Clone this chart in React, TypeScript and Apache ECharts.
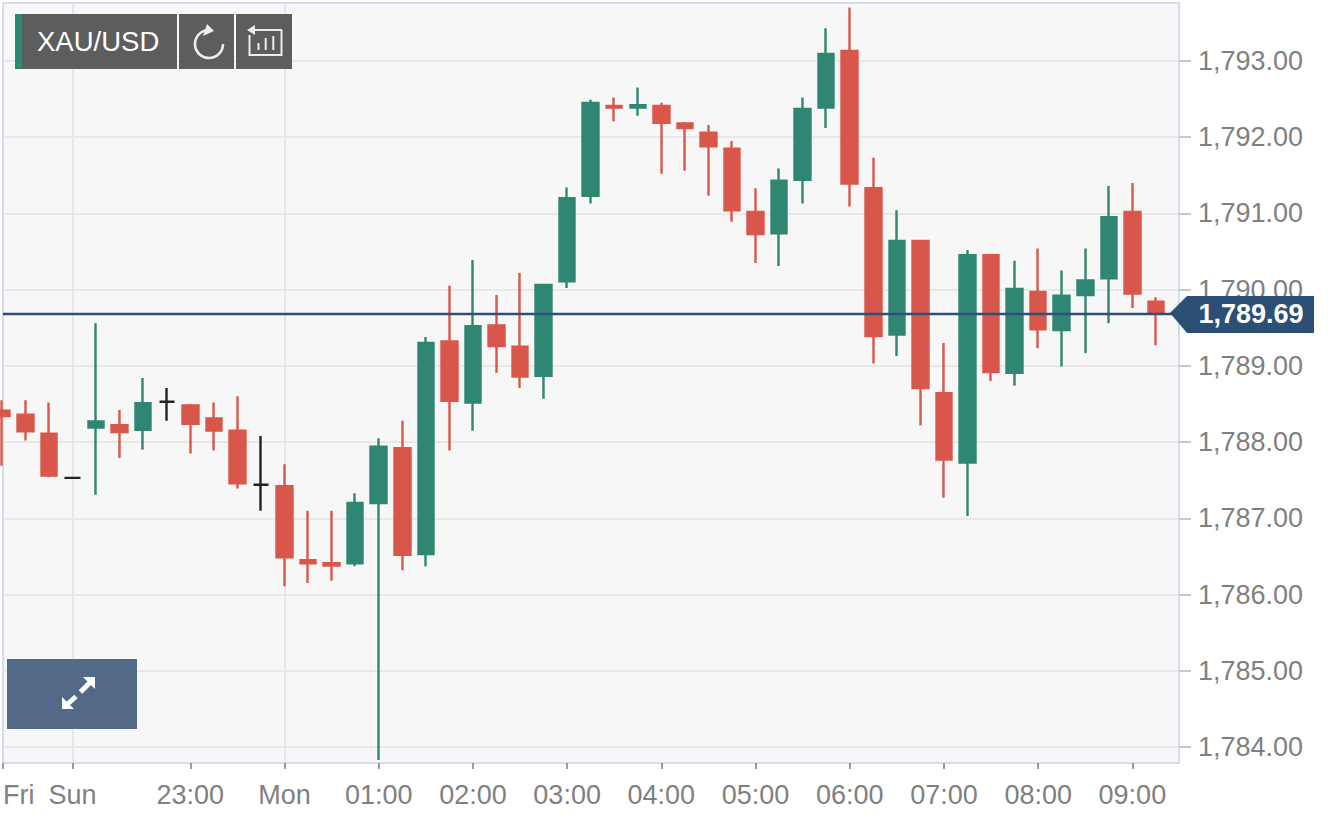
import React, { useEffect, useRef } from "react";
import * as echarts from "echarts";

const opens = [1788.41,1788.36,1788.11,1787.53,1788.19,1788.22,1788.16,1788.53,1788.48,1788.31,1788.15,1787.44,1787.42,1786.45,1786.41,1786.41,1787.20,1787.92,1786.53,1789.32,1788.52,1789.53,1789.25,1788.87,1790.11,1791.23,1792.41,1792.39,1792.41,1792.18,1792.06,1791.85,1791.02,1790.74,1791.44,1792.39,1793.13,1791.33,1789.41,1790.64,1788.64,1787.73,1790.45,1788.91,1789.97,1789.47,1789.93,1790.15,1791.02,1789.84];
const closes = [1788.34,1788.14,1787.56,1787.53,1788.27,1788.13,1788.51,1788.53,1788.24,1788.15,1787.46,1787.44,1786.49,1786.41,1786.38,1787.20,1787.94,1786.52,1789.30,1788.54,1789.52,1789.26,1788.86,1790.06,1791.20,1792.45,1792.39,1792.42,1792.19,1792.12,1791.88,1791.04,1790.73,1791.43,1792.37,1793.09,1791.39,1789.39,1790.64,1788.71,1787.77,1790.45,1788.92,1790.01,1789.48,1789.92,1790.12,1790.95,1789.95,1789.70];
const lows = [1787.69,1788.02,1787.54,1787.52,1787.31,1787.79,1787.90,1788.28,1787.85,1787.89,1787.39,1787.10,1786.11,1786.15,1786.18,1786.37,1783.83,1786.32,1786.37,1787.89,1788.15,1788.91,1788.71,1788.57,1790.02,1791.13,1792.21,1792.28,1791.52,1791.56,1791.23,1790.89,1790.35,1790.31,1791.13,1792.12,1791.09,1789.03,1789.13,1788.22,1787.27,1787.03,1788.80,1788.74,1789.23,1788.99,1789.17,1789.56,1789.76,1789.27];
const highs = [1788.55,1788.55,1788.52,1787.54,1789.56,1788.42,1788.84,1788.71,1788.50,1788.52,1788.60,1788.08,1787.71,1787.10,1787.10,1787.33,1788.05,1788.28,1789.38,1790.05,1790.39,1789.93,1790.22,1790.07,1791.34,1792.49,1792.52,1792.65,1792.45,1792.20,1792.16,1791.95,1791.33,1791.59,1792.52,1793.43,1793.70,1791.73,1791.04,1790.65,1789.30,1790.52,1790.46,1790.38,1790.54,1790.25,1790.54,1791.36,1791.40,1789.90];

const xTickPositions = [0.047, 3, 8, 12, 16, 20, 24, 28, 32, 36, 40, 44, 48];
const xTickLabels = ["Fri", "Sun", "23:00", "Mon", "01:00", "02:00", "03:00", "04:00", "05:00", "06:00", "07:00", "08:00", "09:00"];
const dayBoundaries = [3, 12];
const yTicks = [1784, 1785, 1786, 1787, 1788, 1789, 1790, 1791, 1792, 1793];
const xMin = 0.047;
const xMax = 49.98;
const yMin = 1783.79;
const yMax = 1793.76;
const lastPrice = 1789.69;
const lastPriceLabel = "1,789.69";
const symbolLabel = "XAU/USD";

const FONT = "'Liberation Sans', Arial, sans-serif";
const UP = "#2f8672";
const DOWN = "#d9574a";
const DOJI = "#222222";
const ICON = "#ececec";

export default function App() {
  const ref = useRef<HTMLDivElement>(null);
  useEffect(() => {
    document.body.style.margin = "0";
    document.body.style.background = "#ffffff";
    const chart = echarts.init(ref.current!, null, { renderer: "svg" });
    const data = opens.map((o, i) => {
      const value = [i, o, closes[i], lows[i], highs[i]];
      return { value };
    });
    const ln = (x1: number, y1: number, x2: number, y2: number, stroke: string, lineWidth: number) => ({
      type: "line", z: 100, shape: { x1, y1, x2, y2 }, style: { stroke, lineWidth },
    });
    const rc = (x: number, y: number, width: number, height: number, fill: string) => ({
      type: "rect", z: 100, shape: { x, y, width, height }, style: { fill },
    });
    const poly = (points: number[][], fill: string) => ({
      type: "polygon", z: 100, shape: { points }, style: { fill },
    });
    chart.setOption({
      animation: false,
      backgroundColor: "#ffffff",
      grid: {
        left: 3, right: 158, top: 3, bottom: 71, show: true,
        backgroundColor: "#f7f7f8", borderColor: "#d3dbec", borderWidth: 2,
      },
      xAxis: [
        {
          type: "value", min: xMin, max: xMax,
          axisLine: { show: true, onZero: false, lineStyle: { color: "#d3dbec", width: 2 } },
          axisTick: { show: true, length: 6, customValues: xTickPositions, lineStyle: { color: "#999999", width: 2 } },
          axisLabel: {
            show: true, customValues: xTickPositions, margin: 18, fontFamily: FONT, fontSize: 27, color: "#808080",
            alignMinLabel: "left", showMinLabel: true, showMaxLabel: true, hideOverlap: false,
            formatter: (v: number) => {
              const idx = xTickPositions.findIndex((p) => Math.abs(p - v) < 1e-6);
              return idx >= 0 ? xTickLabels[idx] : "";
            },
          },
          splitLine: { show: false },
        },
        {
          type: "value", min: xMin, max: xMax, position: "bottom",
          axisLine: { show: false },
          axisTick: { show: false, customValues: dayBoundaries },
          axisLabel: { show: false, customValues: dayBoundaries },
          splitLine: { show: true, lineStyle: { color: "#e6e6e6", width: 2 } },
        },
      ],
      yAxis: {
        type: "value", position: "right", min: yMin, max: yMax, scale: true,
        axisLine: { show: true, onZero: false, lineStyle: { color: "#d3dbec", width: 2 } },
        axisTick: { show: true, length: 12, customValues: yTicks, lineStyle: { color: "#c8c8c8", width: 2 } },
        axisLabel: {
          show: true, customValues: yTicks, margin: 19, fontFamily: FONT, fontSize: 27, color: "#808080",
          padding: [2, 0, 0, 0],
          formatter: (v: number) => v.toLocaleString("en-US", { minimumFractionDigits: 2, maximumFractionDigits: 2 }),
        },
        splitLine: { show: true, lineStyle: { color: "#e8e8e8", width: 2 } },
      },
      series: [
        {
          type: "candlestick",
          xAxisIndex: 0,
          clip: false,
          barWidth: 16,
          encode: { x: 0, y: [1, 2, 3, 4] },
          itemStyle: {
            color: UP, color0: DOWN, borderColor: UP, borderColor0: DOWN, borderColorDoji: DOJI, borderWidth: 2.4,
          },
          data,
          markLine: {
            silent: true, symbol: "none", z: 10, animation: false,
            label: { show: false },
            lineStyle: { color: "#2d4f78", width: 2.4, type: "solid" },
            data: [{ yAxis: lastPrice }],
          },
        },
      ],
      graphic: [
        rc(15, 14, 162, 55, "#5d5d5d"),
        rc(15, 14, 7, 55, "#2b8a75"),
        rc(179, 14, 55, 55, "#5d5d5d"),
        rc(236, 14, 56, 55, "#5d5d5d"),
        { type: "text", z: 101, x: 37, y: 41, style: { text: symbolLabel, fill: "#ffffff", font: `27.5px ${FONT}`, textVerticalAlign: "middle" } },
        { type: "arc", z: 101, shape: { cx: 209, cy: 44, r: 14, startAngle: 0, endAngle: 4.55, clockwise: true }, style: { stroke: ICON, lineWidth: 2.6, fill: "none" } },
        poly([[207, 24], [214, 31], [203, 36]], ICON),
        ln(249, 30, 282, 30, ICON, 2),
        poly([[247, 30], [255, 25], [255, 35]], ICON),
        { type: "polyline", z: 101, shape: { points: [[249.5, 35], [249.5, 55], [281.5, 55], [281.5, 30]] }, style: { stroke: ICON, lineWidth: 2, fill: "none" } },
        ln(258.5, 43, 258.5, 50, ICON, 2),
        ln(265.7, 38, 265.7, 50, ICON, 2),
        ln(273.3, 36, 273.3, 50, ICON, 2),
        rc(7, 659, 130, 70, "#526a88"),
        poly([[83, 677], [95, 677], [95, 689]], "#ffffff"),
        poly([[62, 697], [62, 709], [74, 709]], "#ffffff"),
        ln(90, 682.5, 80.5, 692, "#ffffff", 5),
        ln(76, 696.5, 67, 704.5, "#ffffff", 5),
        poly([[1170, 313], [1187, 296], [1314, 296], [1314, 333], [1187, 333]], "#2c4f76"),
        { type: "text", z: 101, x: 1251, y: 314, style: { text: lastPriceLabel, fill: "#ffffff", font: `bold 27px ${FONT}`, textAlign: "center", textVerticalAlign: "middle" } },
      ],
    });
    return () => chart.dispose();
  }, []);
  return <div ref={ref} style={{ width: 1337, height: 834 }} />;
}
